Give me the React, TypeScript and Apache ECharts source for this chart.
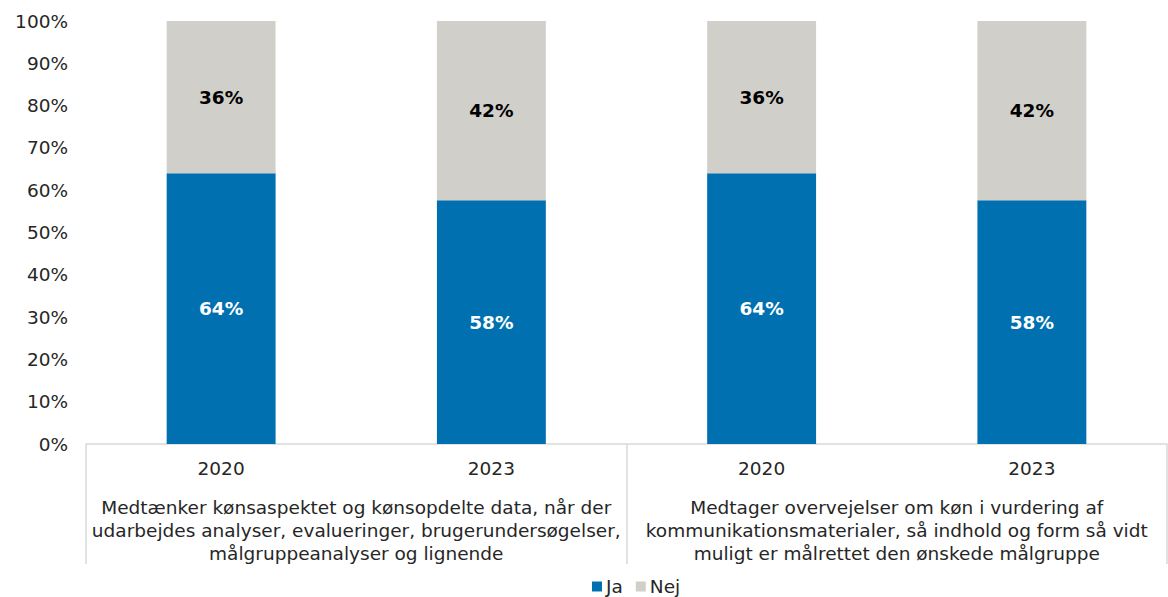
import React, { useEffect, useRef } from "react";
import * as echarts from "echarts";

const years = ["2020", "2023", "2020", "2023"];
const groups = [
  "Medtænker kønsaspektet og kønsopdelte data, når der\nudarbejdes analyser, evalueringer, brugerundersøgelser,\nmålgruppeanalyser og lignende",
  "Medtager overvejelser om køn i vurdering af\nkommunikationsmaterialer, så indhold og form så vidt\nmuligt er målrettet den ønskede målgruppe",
];
const jaValues = [64, 57.6, 64, 57.6];
const nejValues = [36, 42.4, 36, 42.4];
const yTicks = [0, 10, 20, 30, 40, 50, 60, 70, 80, 90, 100];

export default function App() {
  const ref = useRef<HTMLDivElement>(null);
  useEffect(() => {
    if (!ref.current) return;
    const chart = echarts.init(ref.current, null, { renderer: "svg" });
    const font = "DejaVu Sans";
    const fs = 18.5;
    const pct = (p: any) => Math.round(p.value) + "%";
    chart.setOption({
      animation: false,
      textStyle: { fontFamily: font },
      grid: { left: 86, right: 1, top: 21, bottom: 153, containLabel: false },
      legend: {
        data: ["Ja", "Nej"],
        top: 577,
        left: 592,
        icon: "rect",
        itemWidth: 10,
        itemHeight: 10,
        itemGap: 13,
        padding: 0,
        textStyle: { fontSize: fs, lineHeight: 19, color: "#262626", fontFamily: font, padding: [0, 0, 0, -1] },
      },
      xAxis: [
        {
          type: "category",
          data: years,
          position: "bottom",
          axisLine: { show: true, lineStyle: { color: "#d9d9d9", width: 1.5 } },
          axisTick: { show: false },
          axisLabel: { fontSize: fs, color: "#262626", margin: 15, fontFamily: font },
        },
        {
          type: "category",
          data: groups,
          position: "bottom",
          axisLine: { show: false },
          axisTick: { show: true, length: 120, interval: 0, lineStyle: { color: "#d9d9d9", width: 1.5 } },
          axisLabel: {
            interval: 0,
            fontSize: fs,
            color: "#262626",
            margin: 52,
            lineHeight: 23,
            align: "center",
            fontFamily: font,
          },
        },
      ],
      yAxis: {
        type: "value",
        min: 0,
        max: 100,
        interval: 10,
        axisLine: { show: false },
        axisTick: { show: false },
        splitLine: { show: false },
        axisLabel: {
          fontSize: fs,
          color: "#262626",
          margin: 18,
          fontFamily: font,
          formatter: (v: number) => (yTicks.includes(v) ? v + "%" : ""),
        },
      },
      series: [
        {
          name: "Ja",
          type: "bar",
          stack: "total",
          xAxisIndex: 0,
          data: jaValues,
          barWidth: "40.3%",
          itemStyle: { color: "#0070b0" },
          label: {
            show: true,
            position: "inside",
            formatter: pct,
            color: "#ffffff",
            fontWeight: "bold",
            fontSize: fs,
            fontFamily: font,
          },
        },
        {
          name: "Nej",
          type: "bar",
          stack: "total",
          xAxisIndex: 0,
          data: nejValues,
          barWidth: "40.3%",
          itemStyle: { color: "#d0cfca" },
          label: {
            show: true,
            position: "inside",
            formatter: pct,
            color: "#000000",
            fontWeight: "bold",
            fontSize: fs,
            fontFamily: font,
          },
        },
      ],
    });
    return () => chart.dispose();
  }, []);
  return (
    <div
      ref={ref}
      style={{ position: "fixed", left: 0, top: 0, width: 1168, height: 597, background: "#fff" }}
    />
  );
}
